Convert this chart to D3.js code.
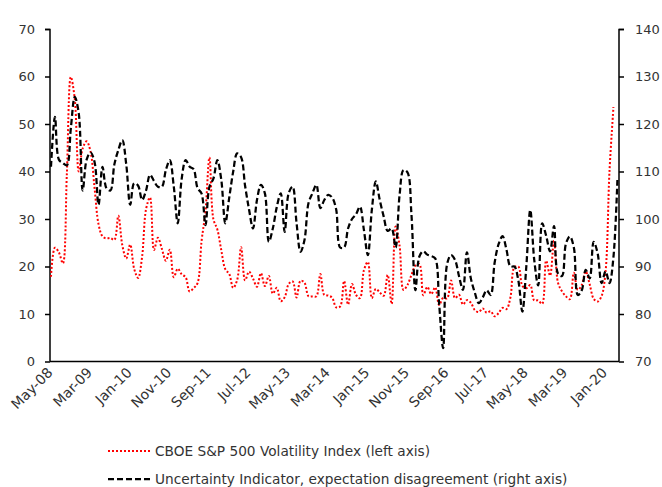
<!DOCTYPE html>
<html>
<head>
<meta charset="utf-8">
<script src="https://cdn.jsdelivr.net/npm/d3@7"></script>
<style>
  body { margin: 0; background: #fff; }
  svg text { font-family: "DejaVu Sans", sans-serif; font-size: 13px; fill: #333; }
</style>
</head>
<body>
<svg id="chart" width="662" height="487"></svg>
<script>
// monthly data, May-08 onwards
const startMonth = new Date(2008, 4, 1);

// CBOE S&P 500 Volatility Index, month end (left axis)
const vix = [
  17.83, 23.95, 22.94, 20.65, 39.39, 59.89, 55.28, 40.00,
  44.84, 46.35, 44.14, 36.50, 28.92, 26.35, 25.92, 26.01, 25.61, 30.69, 24.51, 21.68,
  24.62, 19.50, 17.59, 22.05, 32.07, 34.54, 23.50, 26.05, 23.70, 21.20, 23.54, 17.75,
  19.53, 18.35, 17.74, 14.75, 15.45, 16.52, 25.25, 31.62, 42.96, 29.96, 27.80, 23.40,
  19.44, 18.43, 15.50, 17.15, 24.06, 17.08, 18.93, 17.47, 15.73, 18.60, 15.87, 18.02,
  14.28, 15.51, 12.70, 13.52, 16.30, 16.86, 13.45, 17.01, 16.60, 13.75, 13.70, 13.72,
  18.41, 14.00, 13.88, 13.41, 11.40, 11.57, 16.95, 11.98, 16.31, 14.03, 13.33, 19.20,
  20.97, 13.34, 15.29, 14.55, 13.84, 18.23, 12.12, 28.43, 24.38, 15.07, 16.13, 18.21,
  20.20, 20.55, 13.95, 15.70, 14.19, 15.63, 11.87, 13.42, 13.29, 17.06, 13.33, 14.04,
  11.99, 12.92, 12.37, 10.82, 10.41, 11.18, 10.26, 10.59, 9.51, 10.18, 11.28, 11.04,
  13.54, 19.85, 19.97, 15.93, 15.43, 16.09, 12.83, 12.86, 12.12, 21.23, 18.07, 25.42,
  16.57, 14.78, 13.71, 13.12, 18.71, 15.08, 16.12, 18.98, 16.24, 13.22, 12.62, 13.78,
  18.84, 40.11, 53.54
];

// Uncertainty indicator, expectation disagreement (right axis)
const uncertainty = [
  111, 121.5, 112.5, 111.8, 111.3, 119, 125.7, 122.3,
  106, 112.5, 114, 112, 103, 111, 106.5, 106, 111.5, 114.5, 116.6, 111.5,
  103, 107.5, 107, 104, 106, 109.3, 108, 106.8, 106.8, 110.3, 112.4, 106.8,
  99.1, 108.5, 112.4, 111, 110.5, 106.5, 105.4, 98.7, 106.8, 108.5, 112.4, 108.2,
  99.1, 104.5, 110, 113.8, 113, 107, 102, 98, 104, 107.2, 105.4, 95.2,
  98, 102.5, 105.4, 97.3, 105.4, 106.8, 99.1, 93.1, 95.6, 103.3, 105.4, 107.2,
  102.3, 104, 105.1, 104.5, 102, 94, 94, 98, 100, 101, 102.6, 97.7,
  92.4, 101.9, 107.9, 104, 100.5, 97.5, 98, 94, 105, 110.3, 109.8, 101,
  85, 92.1, 93.2, 92.5, 92.2, 91.7, 82, 72.8, 90.5, 92.4, 91.4, 88,
  85.1, 93, 87.5, 84.5, 82.3, 83.5, 85, 84, 90.8, 94.7, 96.4, 93.5,
  90, 90, 87, 80.5, 90, 101.9, 91.4, 86, 99.1, 96.5, 93.2, 98.5,
  88.5, 88, 94.8, 96.3, 94, 84, 85, 89.3, 87.5, 95.2, 92.8, 86.5,
  89, 86.5, 92, 108.2
];

const tickMonths = [0, 10, 20, 30, 40, 50, 60, 70, 80, 90, 100, 110, 120, 130, 140];
const leftTicks = [0, 10, 20, 30, 40, 50, 60, 70];
const rightTicks = [70, 80, 90, 100, 110, 120, 130, 140];

const svg = d3.select('#chart');
const x = d3.scaleLinear().domain([-0.25, 143.4]).range([50, 619]);
const yL = d3.scaleLinear().domain([0, 70]).range([361.5, 29]);
const yR = d3.scaleLinear().domain([70, 140]).range([361.5, 29]);
const fmt = d3.timeFormat('%b-%y');

// left axis
const left = svg.append('g').attr('transform', 'translate(50,0)')
  .call(d3.axisLeft(yL).tickValues(leftTicks).tickSize(5).tickPadding(10));
// right axis
const right = svg.append('g').attr('transform', 'translate(619,0)')
  .call(d3.axisRight(yR).tickValues(rightTicks).tickSize(5).tickPadding(11));
// bottom axis
const bottom = svg.append('g').attr('transform', 'translate(0,361.5)')
  .call(d3.axisBottom(x).tickValues(tickMonths).tickSize(0)
    .tickFormat(i => fmt(d3.timeMonth.offset(startMonth, i))));

[left, right, bottom].forEach(g => {
  g.attr('font-family', null).attr('font-size', null);
  g.select('.domain').attr('stroke', '#000').attr('stroke-width', 1.5);
  g.selectAll('.tick line').attr('stroke', '#000').attr('stroke-width', 1.5);
  g.selectAll('text').attr('fill', '#333');
});
left.select('.domain').attr('d', 'M-5,29.5H0V361.5');
right.select('.domain').attr('d', 'M5,29.5H0V361.5');
bottom.select('.domain').attr('d', 'M50,0H619');
bottom.selectAll('.tick text')
  .style('font-size', '14px')
  .attr('text-anchor', 'end')
  .attr('dy', null)
  .attr('transform', 'translate(2,12) rotate(-45)')
  .attr('y', 0).attr('x', 0);

const lineL = d3.line().x((d, i) => x(i)).y(d => yL(d)).curve(d3.curveCatmullRom.alpha(0.5));
const lineR = d3.line().x((d, i) => x(i)).y(d => yR(d)).curve(d3.curveCatmullRom.alpha(0.5));

svg.append('path').datum(vix)
  .attr('d', lineL)
  .attr('fill', 'none')
  .attr('stroke', '#ff0000')
  .attr('stroke-width', 2)
  .attr('stroke-dasharray', '2 2');

svg.append('path').datum(uncertainty)
  .attr('d', lineR)
  .attr('fill', 'none')
  .attr('stroke', '#000')
  .attr('stroke-width', 2.25)
  .attr('stroke-dasharray', '6 3');

// legend
const legend = [
  {label: 'CBOE S&P 500 Volatility Index (left axis)', color: '#ff0000', dash: '2 2', w: 2, y: 451},
  {label: 'Uncertainty Indicator, expectation disagreement (right axis)', color: '#000', dash: '6 3', w: 2.25, y: 479}
];
const lg = svg.append('g').selectAll('g').data(legend).enter().append('g');
lg.append('line')
  .attr('x1', 108).attr('x2', 150)
  .attr('y1', d => d.y).attr('y2', d => d.y)
  .attr('stroke', d => d.color)
  .attr('stroke-width', d => d.w)
  .attr('stroke-dasharray', d => d.dash);
lg.append('text')
  .attr('x', 155).attr('y', d => d.y).attr('dy', '0.35em')
  .style('font-size', '13.7px')
  .text(d => d.label);
</script>
</body>
</html>
